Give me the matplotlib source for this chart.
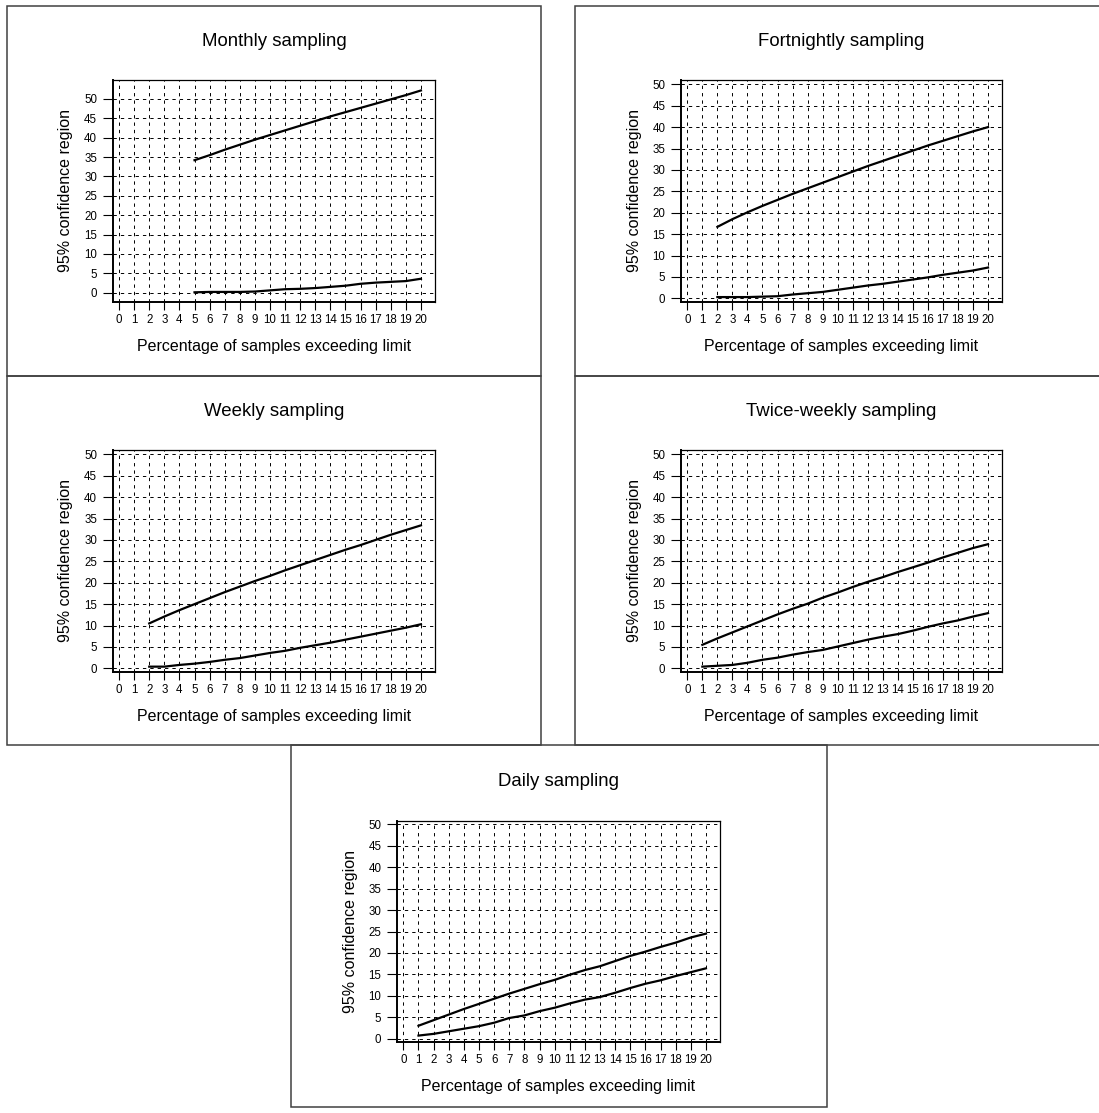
import matplotlib
matplotlib.use("Agg")
import matplotlib.pyplot as plt
from matplotlib.patches import Rectangle

plt.rcParams['font.family'] = ['Liberation Sans', 'DejaVu Sans']
plt.rcParams['lines.scale_dashes'] = False

# Datos: límites inferior y superior del intervalo del 95 %
monthly_x = list(range(5, 21))
monthly_lower = [0.1, 0.2, 0.2, 0.2, 0.3, 0.6, 0.9, 1.0, 1.2, 1.5, 1.8, 2.3, 2.6, 2.8, 3.0, 3.6]
monthly_upper = [34.2, 35.5, 36.9, 38.2, 39.5, 40.7, 41.9, 43.1, 44.3, 45.5, 46.6, 47.7, 48.8, 49.9, 51.0, 52.2]

fortnightly_x = list(range(2, 21))
fortnightly_lower = [0.3, 0.3, 0.3, 0.4, 0.5, 0.9, 1.2, 1.5, 2.0, 2.5, 3.0, 3.4, 3.9, 4.4, 4.9, 5.5, 6.0, 6.5, 7.2]
fortnightly_upper = [16.7, 18.5, 20.1, 21.6, 23.0, 24.4, 25.7, 27.0, 28.3, 29.6, 30.9, 32.1, 33.3, 34.5, 35.7, 36.8, 37.9, 39.0, 40.0]

weekly_x = list(range(2, 21))
weekly_lower = [0.4, 0.4, 0.8, 1.1, 1.5, 2.0, 2.4, 3.0, 3.6, 4.1, 4.8, 5.4, 6.0, 6.7, 7.4, 8.1, 8.8, 9.5, 10.3]
weekly_upper = [10.5, 12.1, 13.6, 15.0, 16.4, 17.8, 19.1, 20.4, 21.6, 22.9, 24.1, 25.3, 26.5, 27.7, 28.8, 30.0, 31.2, 32.3, 33.4]

twice_x = list(range(1, 21))
twice_lower = [0.4, 0.6, 0.8, 1.3, 2.0, 2.5, 3.2, 3.8, 4.3, 5.1, 5.9, 6.7, 7.4, 8.0, 8.8, 9.7, 10.5, 11.2, 12.1, 12.9]
twice_upper = [5.5, 7.0, 8.4, 9.8, 11.2, 12.6, 13.9, 15.1, 16.5, 17.7, 19.0, 20.2, 21.3, 22.5, 23.6, 24.7, 25.9, 27.0, 28.1, 29.0]

daily_x = list(range(1, 21))
daily_lower = [0.7, 1.1, 1.7, 2.3, 2.9, 3.7, 4.8, 5.4, 6.4, 7.2, 8.2, 9.1, 9.7, 10.7, 11.8, 12.8, 13.6, 14.6, 15.5, 16.4]
daily_upper = [3.0, 4.3, 5.6, 6.9, 8.1, 9.3, 10.5, 11.6, 12.7, 13.7, 14.9, 16.0, 16.9, 18.1, 19.3, 20.3, 21.4, 22.4, 23.6, 24.5]

titles = ['Monthly sampling', 'Fortnightly sampling', 'Weekly sampling',
          'Twice-weekly sampling', 'Daily sampling']
x_ticks = list(range(0, 21))
y_ticks = list(range(0, 51, 5))

W, H = 1099, 1113
fig = plt.figure(figsize=(W / 100, H / 100), dpi=100)


def fx(px):
    return px / W


def fy(py):
    return 1 - py / H


# cajas de cada panel (píxeles: izq, arriba, der, abajo)
panels = [(7, 6, 541, 376), (575, 6, 1100, 376), (7, 376, 541, 745),
          (575, 376, 1100, 745), (291, 745, 827, 1107)]
# ejes (píxeles: izq, arriba, der, abajo)
boxes = [(112.7, 80, 435, 302), (681, 80, 1002, 302), (112.7, 450, 435, 672),
         (681, 450, 1002, 672), (397, 821, 720, 1042)]
ylims = [(-2.4, 54.9), (-0.85, 51), (-0.85, 51), (-0.85, 51), (-0.8, 50.8)]
series = [(monthly_x, monthly_lower, monthly_upper),
          (fortnightly_x, fortnightly_lower, fortnightly_upper),
          (weekly_x, weekly_lower, weekly_upper),
          (twice_x, twice_lower, twice_upper),
          (daily_x, daily_lower, daily_upper)]

for panel, box, ylim, (xs, lo, up), title in zip(panels, boxes, ylims, series, titles):
    px0, py0, px1, py1 = panel
    fig.add_artist(Rectangle((fx(px0), fy(py1)), (px1 - px0) / W, (py1 - py0) / H,
                             transform=fig.transFigure, fill=False,
                             edgecolor='#404040', linewidth=1.1))
    l, t, r, b = box
    w, h = r - l, b - t
    ax = fig.add_axes([fx(l), fy(b), w / W, h / H])
    ax.plot(xs, lo, color='black', linewidth=1.6)
    ax.plot(xs, up, color='black', linewidth=1.6)
    ax.set_xlim(-0.42, 20.93)
    ax.set_ylim(*ylim)
    ax.set_xticks(x_ticks)
    ax.set_yticks(y_ticks)
    ax.tick_params(axis='x', length=5.8, width=0.8, pad=3, labelsize=8.3)
    ax.tick_params(axis='y', length=7.2, width=0.8, pad=4, labelsize=8.3)
    ax.grid(True, color='black', linewidth=0.7, linestyle=(0, (2.4, 2.9)))
    for side in ['left', 'bottom']:
        ax.spines[side].set_linewidth(1.4)
    for side in ['top', 'right']:
        ax.spines[side].set_linewidth(0.9)
    ax.set_xlabel('Percentage of samples exceeding limit', fontsize=11.5)
    ax.xaxis.set_label_coords(0.5, -44 / h)
    ax.xaxis.label.set_va('center')
    ax.set_ylabel('95% confidence region', fontsize=11.5)
    ax.yaxis.set_label_coords(-47 / w, 0.5)
    ax.yaxis.label.set_va('center')
    fig.text(fx((px0 + px1) / 2 if px1 < 1099 else (l + r) / 2), fy(py0 + 36), title,
             ha='center', va='center', fontsize=13.4)

fig.savefig('out.png', dpi=100)
